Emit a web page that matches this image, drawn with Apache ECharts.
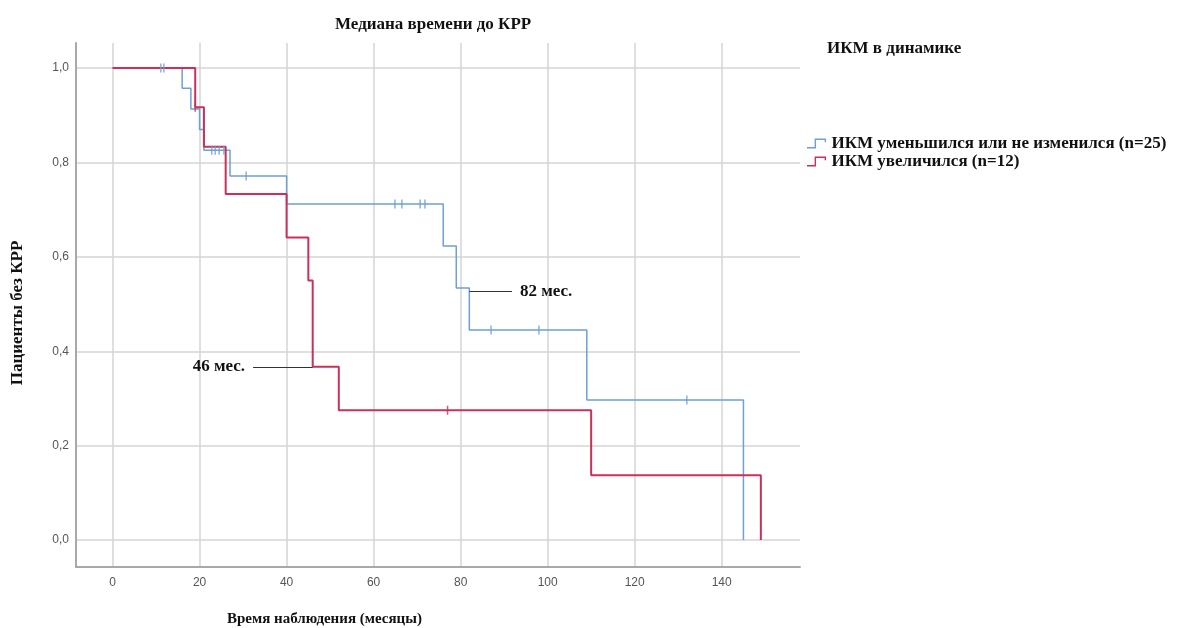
<!DOCTYPE html>
<html>
<head>
<meta charset="utf-8">
<script src="https://cdn.jsdelivr.net/npm/echarts@6/dist/echarts.min.js"></script>
<style>
  html, body { margin: 0; padding: 0; background: #fff; }
  #chart { width: 1179px; height: 628px; }
</style>
</head>
<body>
<div id="chart"></div>
<script>
var chartDom = document.getElementById("chart");
var chart = echarts.init(chartDom, null, { renderer: "canvas" });

// Kaplan-Meier steps
const blueName = "ИКМ уменьшился или не изменился (n=25)";
const blueTimes = [0, 16, 18, 20, 21, 27, 40, 76, 79, 82, 109, 145];
const blueSurv = [1, 0.957, 0.913, 0.870, 0.826, 0.771, 0.712, 0.623, 0.534, 0.445, 0.297, 0];
const blueCensorTimes = [11.1, 11.8, 22.8, 23.6, 24.5, 25.6, 30.7, 64.9, 66.5, 70.7, 71.8, 87, 98, 132];
const blueCensorSurv = [1, 1, 0.826, 0.826, 0.826, 0.826, 0.771, 0.712, 0.712, 0.712, 0.712, 0.445, 0.445, 0.297];

const redName = "ИКМ увеличился (n=12)";
const redTimes = [0, 19, 21, 26, 40, 45, 46, 52, 110, 149];
const redSurv = [1, 0.917, 0.833, 0.733, 0.641, 0.55, 0.367, 0.275, 0.1375, 0];
const redCensorTimes = [19, 77];
const redCensorSurv = [0.917, 0.275];

// medians with leader lines
const medianLabels = ["82 мес.", "46 мес."];
const medianLineFrom = [[82, 0.527], [46, 0.367]];
const medianLineTo = [[91.8, 0.527], [32.3, 0.367]];

const xTicks = [0, 20, 40, 60, 80, 100, 120, 140];
const yTicks = [0, 0.2, 0.4, 0.6, 0.8, 1.0];

const blueColor = "#6e9fd6";
const redColor = "#c9305a";
const serif = "Liberation Serif";
// small step-shaped outline for the legend
const stepIcon = "path://M0,9 L8,9 L8,0 L20,0 L20,4 L18.5,4 L18.5,1.5 L9.5,1.5 L9.5,10.5 L0,10.5 Z";

function pairs(xs, ys) {
  var out = [];
  for (var i = 0; i < xs.length; i++) out.push([xs[i], ys[i]]);
  return out;
}

function medianLine(i) {
  return [
    { coord: medianLineFrom[i], symbol: "none" },
    {
      coord: medianLineTo[i],
      symbol: "none",
      label: { formatter: medianLabels[i] },
    },
  ];
}

var boldText = { fontFamily: serif, fontSize: 17, fontWeight: "bold", color: "#111" };

var option = {
  animation: false,
  backgroundColor: "#fff",
  title: [
    {
      text: "Медиана времени до КРР",
      left: 330,
      top: 11,
      textStyle: boldText,
    },
    {
      text: "ИКМ в динамике",
      left: 822,
      top: 35,
      textStyle: boldText,
    },
    {
      text: "Время наблюдения (месяцы)",
      left: 222,
      top: 607,
      textStyle: { fontFamily: serif, fontSize: 15, fontWeight: "bold", color: "#111" },
    },
  ],
  legend: {
    data: [
      { name: blueName, icon: stepIcon },
      { name: redName, icon: stepIcon },
    ],
    orient: "vertical",
    left: 802,
    top: 130,
    itemWidth: 20,
    itemHeight: 10,
    itemGap: 1,
    textStyle: boldText,
  },
  grid: {
    left: 76,
    right: 379,
    top: 43,
    bottom: 61,
  },
  xAxis: {
    type: "value",
    min: -8.4,
    max: 158,
    axisLine: { show: true, onZero: false, lineStyle: { color: "#a8a8a8", width: 2 } },
    axisTick: { show: false, customValues: xTicks },
    axisLabel: {
      customValues: xTicks,
      margin: 10,
      color: "#555",
      fontFamily: "Liberation Sans",
      fontSize: 12,
    },
    splitLine: { show: true, lineStyle: { color: "#d4d4d4", width: 1.5 } },
  },
  yAxis: {
    type: "value",
    min: -0.057,
    max: 1.053,
    name: "Пациенты без КРР",
    nameLocation: "middle",
    nameGap: 50,
    nameTextStyle: {
      fontFamily: serif,
      fontSize: 17,
      fontWeight: "bold",
      color: "#111",
      padding: [0, 16, 0, 0],
    },
    axisLine: { show: true, onZero: false, lineStyle: { color: "#a8a8a8", width: 2 } },
    axisTick: { show: false, customValues: yTicks },
    axisLabel: {
      customValues: yTicks,
      margin: 7,
      color: "#555",
      fontFamily: "Liberation Sans",
      fontSize: 12,
      formatter: function (v) {
        return v.toFixed(1).replace(".", ",");
      },
    },
    splitLine: { show: true, lineStyle: { color: "#d4d4d4", width: 1.5 } },
  },
  series: [
    {
      name: blueName,
      type: "line",
      step: "end",
      data: pairs(blueTimes, blueSurv),
      showSymbol: false,
      color: blueColor,
      lineStyle: { width: 1.5, color: blueColor },
      z: 3,
      markLine: {
        silent: true,
        symbol: "none",
        lineStyle: { color: "#333", width: 1, type: "solid" },
        label: {
          position: "end",
          distance: 8,
          fontFamily: serif,
          fontSize: 17,
          fontWeight: "bold",
          color: "#111",
        },
        data: [medianLine(0), medianLine(1)],
      },
    },
    {
      name: redName,
      type: "line",
      step: "end",
      data: pairs(redTimes, redSurv),
      showSymbol: false,
      color: redColor,
      lineStyle: { width: 2, color: redColor },
      z: 4,
    },
    {
      name: "blue-censored",
      type: "scatter",
      data: pairs(blueCensorTimes, blueCensorSurv),
      symbol: "rect",
      symbolSize: [1.5, 9],
      itemStyle: { color: blueColor },
      z: 5,
    },
    {
      name: "red-censored",
      type: "scatter",
      data: pairs(redCensorTimes, redCensorSurv),
      symbol: "rect",
      symbolSize: [1.5, 9],
      itemStyle: { color: redColor },
      z: 5,
    },
  ],
};

chart.setOption(option);

window.addEventListener("resize", function () {
  chart.resize();
});
</script>
</body>
</html>
